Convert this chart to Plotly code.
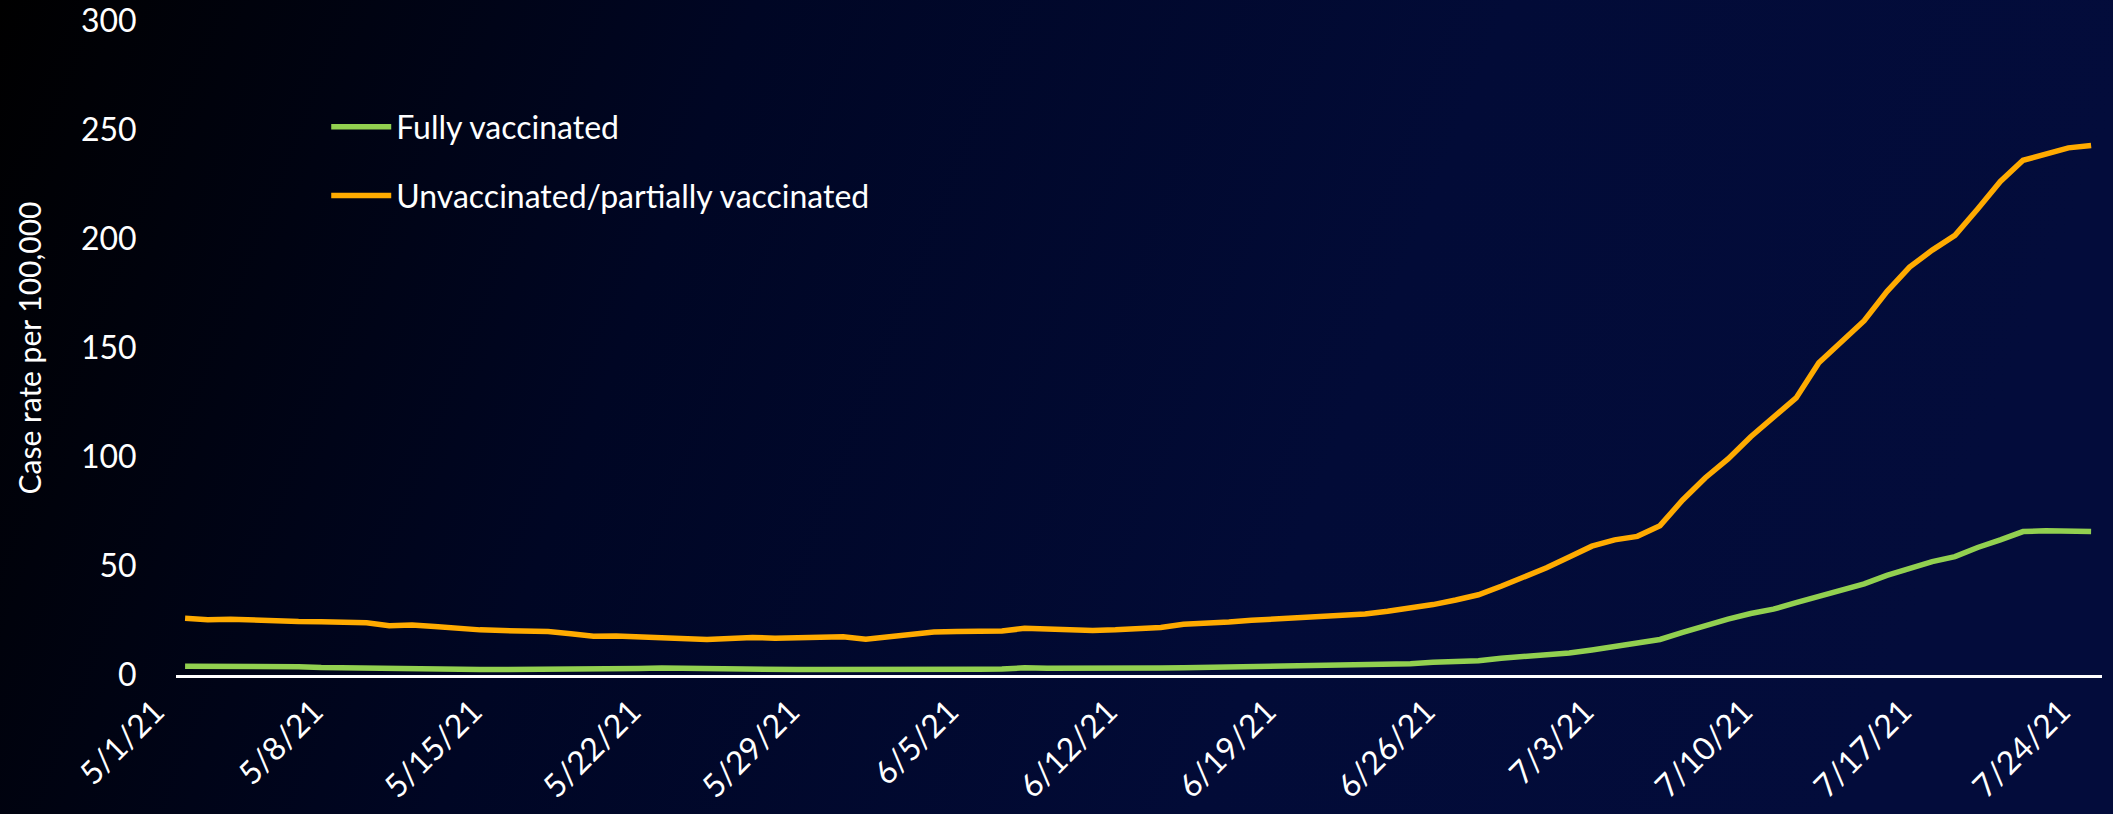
import base64
import pandas as pd
import plotly.graph_objects as go

# ---------------- data ----------------
dates = pd.date_range("2021-05-01", "2021-07-24", freq="D")
date_labels = [f"{d.month}/{d.day}/{d.strftime('%y')}" for d in dates]
tick_labels = date_labels[::7]

fully_vaccinated = [
    4.0, 4.0, 4.1, 4.1, 4.0, 3.8, 3.4, 3.2, 3.1, 2.9,
    2.8, 2.8, 2.7, 2.5, 2.5, 2.5, 2.4, 2.4, 2.4, 2.5,
    3.0, 3.2, 3.0, 2.7, 2.7, 2.6, 2.6, 2.5, 2.5, 2.5,
    2.0, 2.4, 2.5, 2.5, 2.5, 2.6, 2.7, 3.3, 3.1, 3.0,
    3.0, 3.0, 3.1, 3.2, 3.3, 3.5, 3.6, 3.7, 3.9, 3.9,
    4.2, 4.4, 4.7, 4.9, 5.2, 5.8, 6.1, 6.5, 7.7, 8.4,
    8.8, 10.1, 11.5, 13.3, 14.6, 16.3, 19.5, 22.8, 25.6, 28.2,
    30.2, 33.2, 36.2, 39.0, 41.8, 45.7, 49.1, 52.0, 54.3, 58.5,
    62.0, 65.8, 66.2, 66.3, 65.8,
]

unvaccinated = [
    26.0, 25.4, 25.6, 25.1, 24.7, 24.5, 24.4, 24.1, 24.0, 22.6,
    22.9, 22.2, 21.3, 20.7, 20.4, 20.3, 20.0, 18.9, 17.8, 17.9,
    17.6, 17.5, 17.0, 16.3, 16.8, 17.2, 16.9, 17.3, 17.4, 17.5,
    16.4, 17.4, 18.7, 19.7, 20.0, 20.0, 20.2, 21.4, 21.2, 20.4,
    20.4, 20.7, 21.3, 21.8, 23.3, 23.6, 24.3, 25.1, 25.7, 26.2,
    26.9, 27.0, 28.0, 29.2, 30.7, 32.3, 34.4, 36.8, 40.7, 44.8,
    49.2, 54.1, 59.1, 62.0, 63.6, 68.5, 80.3, 90.5, 99.1, 109.3,
    118.5, 127.1, 143.2, 152.6, 162.5, 175.9, 187.1, 194.9, 201.7, 213.8,
    226.4, 236.1, 239.1, 241.8, 242.9,
]

y_ticks = [0, 50, 100, 150, 200, 250, 300]

# ---------------- style ----------------
W, H = 2113, 814
M_L, M_R, M_T, M_B = 176, 11, 21, 139
FONT = "Lato"
FS = 32
GREEN = "#92D050"
ORANGE = "#FFAB00"

svg = f'''<svg xmlns="http://www.w3.org/2000/svg" width="{W}" height="{H}" preserveAspectRatio="none">
<defs><linearGradient id="g" x1="0" y1="0" x2="1" y2="0.15">
<stop offset="0" stop-color="#000000"/>
<stop offset="0.35" stop-color="#000624"/>
<stop offset="0.7" stop-color="#020b37"/>
<stop offset="1" stop-color="#030c3b"/>
</linearGradient></defs>
<rect width="{W}" height="{H}" fill="url(#g)"/></svg>'''
bg_uri = "data:image/svg+xml;base64," + base64.b64encode(svg.encode()).decode()

pw = W - M_L - M_R
ph = H - M_T - M_B

fig = go.Figure()
fig.add_trace(go.Scatter(
    x=date_labels, y=fully_vaccinated, mode="lines", name="Fully vaccinated",
    line=dict(color=GREEN, width=5.5), legendgroup="a",
))
fig.add_trace(go.Scatter(
    x=date_labels, y=unvaccinated, mode="lines", name="Unvaccinated/partially vaccinated",
    line=dict(color=ORANGE, width=5.5), legendgroup="b",
))

fig.update_layout(
    width=W, height=H,
    margin=dict(l=M_L, r=M_R, t=M_T, b=M_B, autoexpand=False),
    paper_bgcolor="#000000",
    plot_bgcolor="rgba(0,0,0,0)",
    font=dict(family=FONT, size=FS, color="white"),
    showlegend=True,
    legend=dict(
        x=0.078, y=0.88, xanchor="left", yanchor="top",
        bgcolor="rgba(0,0,0,0)", font=dict(family=FONT, size=FS, color="white"),
        tracegroupgap=24, itemwidth=60,
    ),
    images=[dict(
        source=bg_uri, xref="paper", yref="paper",
        x=-M_L / pw, y=1 + M_T / ph, sizex=W / pw, sizey=H / ph,
        xanchor="left", yanchor="top", sizing="stretch", layer="below",
    )],
    xaxis=dict(
        type="category", automargin=False,
        range=[-0.4, len(date_labels) - 1 + 0.48],
        tickmode="array", tickvals=tick_labels, ticktext=tick_labels,
        tickangle=-45, showgrid=False, zeroline=False,
        showline=True, linecolor="white", linewidth=3,
        ticks="outside", ticklen=2, tickcolor="rgba(0,0,0,0)",
        ticklabelshift=-30,
        tickfont=dict(family=FONT, size=FS, color="white"),
    ),
    yaxis=dict(
        range=[0, 300], tickvals=y_ticks, showgrid=False, zeroline=False,
        automargin=False,
        showline=False, ticks="outside", ticklen=32, tickcolor="rgba(0,0,0,0)",
        tickfont=dict(family=FONT, size=FS, color="white"),
        title=dict(text="Case rate per 100,000", font=dict(family=FONT, size=30, color="white"), standoff=30),
    ),
)

fig.write_html(
    "out.html",
    config={"displayModeBar": False},
    post_script="document.body.style.margin='0';document.body.style.padding='0';",
)
